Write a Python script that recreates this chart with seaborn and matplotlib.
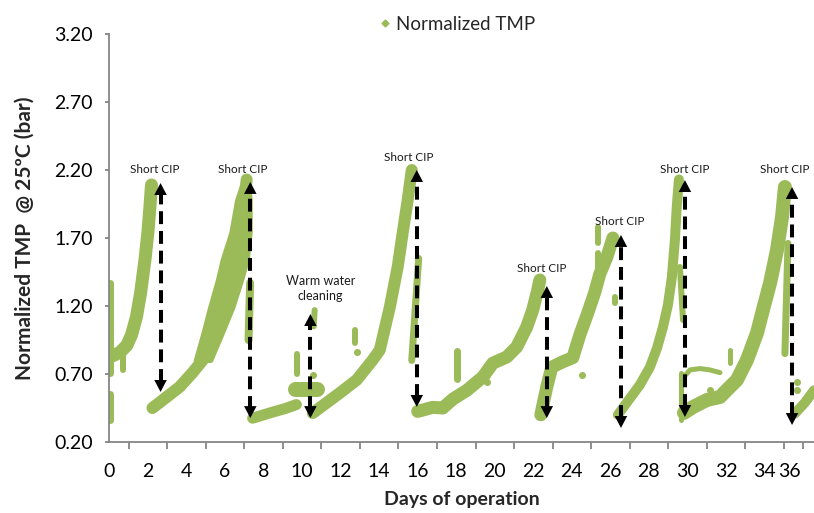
import matplotlib
matplotlib.use("Agg")
import matplotlib.pyplot as plt
import seaborn as sns
from matplotlib.lines import Line2D

# ---------------- data ----------------
# filtration cycles: centre line of the TMP band (day, bar)
seg0_day = [0.10, 0.55, 0.90, 1.15, 1.40, 1.62, 1.85, 2.00, 2.10, 2.18]
seg0_tmp = [0.83, 0.86, 0.91, 0.99, 1.12, 1.30, 1.55, 1.75, 1.93, 2.09]

seg1_day = [2.23, 2.96, 3.64, 4.31, 4.83, 5.19, 5.56, 5.85, 6.20, 6.50, 6.80, 6.95, 7.05, 7.12]
seg1_tmp = [0.45, 0.53, 0.605, 0.71, 0.80, 0.90, 1.05, 1.20, 1.39, 1.54, 1.74, 1.91, 2.03, 2.13]

seg2_day = [7.43, 8.47, 9.10, 9.70]
seg2_tmp = [0.375, 0.42, 0.445, 0.475]

seg3_day = [10.55, 11.95, 12.83, 13.66, 14.03, 14.55, 14.96, 15.22, 15.48, 15.69]
seg3_tmp = [0.413, 0.56, 0.656, 0.803, 0.876, 1.19, 1.487, 1.737, 1.98, 2.20]

seg4_day = [16.00, 16.78, 17.30, 17.82, 18.55, 19.38, 19.90, 20.62, 21.14, 21.66, 21.97, 22.23, 22.34]
seg4_tmp = [0.425, 0.455, 0.45, 0.515, 0.58, 0.678, 0.78, 0.825, 0.899, 1.046, 1.171, 1.318, 1.391]

seg5_day = [22.39, 22.70, 22.96, 23.53, 24.05, 24.42, 24.78, 25.19, 25.45, 25.82, 26.13]
seg5_tmp = [0.40, 0.605, 0.75, 0.79, 0.82, 0.99, 1.13, 1.30, 1.435, 1.56, 1.70]

seg6_day = [26.39, 27.01, 27.53, 28.05, 28.42, 28.73, 28.99, 29.19, 29.35, 29.45, 29.56]
seg6_tmp = [0.40, 0.52, 0.62, 0.75, 0.89, 1.045, 1.21, 1.41, 1.685, 1.94, 2.13]

seg7_day = [29.82, 30.29, 31.01, 31.69, 32.05, 32.57, 33.09, 33.61, 33.92, 34.29, 34.65, 34.91, 35.06]
seg7_tmp = [0.414, 0.457, 0.509, 0.531, 0.583, 0.656, 0.803, 1.001, 1.171, 1.369, 1.612, 1.854, 2.075]

seg8_day = [35.58, 36.10, 36.57]
seg8_tmp = [0.41, 0.49, 0.58]

# wide scatter on the rising part of cycle 1 (TMP level, left and right day edge)
wedge1_tmp = [0.80, 1.00, 1.19, 1.39, 1.54, 1.74, 1.98, 2.13]
wedge1_left = [4.45, 4.85, 5.20, 5.60, 5.85, 6.30, 6.60, 6.96]
wedge1_right = [5.25, 5.85, 6.40, 6.85, 7.15, 7.30, 7.30, 7.20]

# short strips of scattered readings (start/end day, start/end TMP)
strip_day0 = [0.05, 0.05, 0.68, 7.22, 9.73, 9.65, 10.60, 12.75, 15.69, 18.05, 25.38, 25.38, 26.23, 29.61, 29.66, 32.21, 35.06]
strip_day1 = [0.05, 0.05, 0.68, 7.30, 9.73, 10.75, 10.65, 12.75, 16.05, 18.05, 25.38, 25.38, 26.23, 29.77, 29.66, 32.21, 35.22]
strip_tmp0 = [0.71, 0.36, 0.73, 0.95, 0.70, 0.59, 1.05, 0.93, 0.80, 0.66, 1.665, 1.44, 1.22, 1.487, 0.362, 0.781, 0.85]
strip_tmp1 = [1.37, 0.55, 0.88, 1.37, 0.85, 0.59, 1.17, 1.02, 1.55, 0.87, 1.784, 1.59, 1.266, 1.097, 0.707, 0.877, 1.66]

# upper branch of readings after the day-30 CIP
branch_day = [29.77, 30.13, 30.65, 31.17, 31.69]
branch_tmp = [0.67, 0.73, 0.74, 0.73, 0.71]

# isolated readings
dot_day = [10.55, 12.83, 19.58, 24.52, 31.17, 32.10, 35.69, 35.69]
dot_tmp = [0.69, 0.86, 0.64, 0.69, 0.583, 0.60, 0.641, 0.583]

# cleaning events: day, lower / upper end of arrow
event_day = [2.65, 7.31, 10.43, 15.95, 22.70, 26.55, 29.87, 35.43]
event_low = [0.568, 0.376, 0.376, 0.458, 0.376, 0.303, 0.384, 0.325]
event_high = [2.104, 2.112, 1.141, 2.20, 1.347, 1.722, 2.126, 2.075]

label_text = ["Short CIP", "Short CIP", "Warm water\ncleaning", "Short CIP",
              "Short CIP", "Short CIP", "Short CIP", "Short CIP"]
label_day = [2.34, 6.94, 10.96, 15.53, 22.42, 26.49, 29.87, 35.06]
label_tmp = [2.207, 2.207, 1.33, 2.29, 1.479, 1.825, 2.207, 2.207]

y_ticks = [0.20, 0.70, 1.20, 1.70, 2.20, 2.70, 3.20]
x_tick_labels = ["0", "2", "4", "6", "8", "10", "12", "14", "16", "18",
                 "20", "22", "24", "26", "28", "30", "32", "34", "36"]

# ---------------- style ----------------
sns.set_theme(style="white")
plt.rcParams["font.family"] = ["Lato", "DejaVu Sans"]

GREEN = "#9BBB59"
GREY = "#868686"
PT = 0.72  # points per pixel at dpi 100

fig = plt.figure(figsize=(8.14, 5.13), dpi=100)
ax = fig.add_axes([0.1345, 0.1384, 0.8655, 0.7953])

segments = [
    (seg0_day, seg0_tmp, 13), (seg1_day, seg1_tmp, 12), (seg2_day, seg2_tmp, 11),
    (seg3_day, seg3_tmp, 12), (seg4_day, seg4_tmp, 13), (seg5_day, seg5_tmp, 13),
    (seg6_day, seg6_tmp, 10), (seg7_day, seg7_tmp, 14), (seg8_day, seg8_tmp, 10),
]
for d, t, w in segments:
    sns.lineplot(x=d, y=t, ax=ax, color=GREEN, linewidth=w * PT, estimator=None,
                 sort=False, solid_capstyle="round", solid_joinstyle="round", legend=False)

ax.fill_betweenx(wedge1_tmp, wedge1_left, wedge1_right, color=GREEN, linewidth=3,
                 edgecolor=GREEN)

strip_w = [7, 7, 6, 8, 6, 15, 6, 6, 7, 7, 6, 6, 6, 6, 5, 5, 7]
for i in range(len(strip_day0)):
    sns.lineplot(x=[strip_day0[i], strip_day1[i]], y=[strip_tmp0[i], strip_tmp1[i]], ax=ax,
                 color=GREEN, linewidth=strip_w[i] * PT, estimator=None, sort=False,
                 solid_capstyle="round", legend=False)

sns.lineplot(x=branch_day, y=branch_tmp, ax=ax, color=GREEN, linewidth=5 * PT,
             estimator=None, sort=False, solid_capstyle="round", legend=False)

sns.scatterplot(x=dot_day, y=dot_tmp, ax=ax, color=GREEN, s=(7 * PT) ** 2,
                linewidth=0, legend=False)

# cleaning arrows
head = 0.07
for x, lo, hi in zip(event_day, event_low, event_high):
    ax.plot([x, x], [lo + head, hi - head], color="black", lw=2.9,
            linestyle=(0, (3.2, 1.7)), dash_capstyle="butt", zorder=5)
    for tip, off in ((hi, -14), (lo, 14)):
        ax.annotate("", xy=(x, tip), xytext=(0, off), textcoords="offset points",
                    arrowprops=dict(arrowstyle="-|>,head_length=0.86,head_width=0.45",
                                    color="black", lw=0, shrinkA=0, shrinkB=0,
                                    mutation_scale=10), zorder=6)

for txt, x, y in zip(label_text, label_day, label_tmp):
    ax.text(x, y, txt, ha="center", va="center",
            fontsize=8.5 if txt.startswith("Short") else 9, color="#1a1a1a",
            linespacing=1.3)

# axes
ax.set_xlim(0, 36.57)
ax.set_ylim(0.2, 3.2)
ax.set_yticks(y_ticks)
ax.set_yticklabels([f"{v:.2f}" for v in y_ticks])
label_pos = [0, 2, 4, 6, 8, 10, 12, 14, 16, 18, 20, 22, 24, 26, 28, 30, 32, 34, 35.3]
ax.set_xticks(label_pos)
ax.set_xticklabels(x_tick_labels)
ax.set_xticks(range(0, 37), minor=True)
ax.tick_params(axis="x", which="major", bottom=True, length=0, pad=15, labelsize=14,
               labelcolor="black")
ax.tick_params(axis="x", which="minor", bottom=True, length=5, width=1.3, color=GREY,
               direction="out")
ax.tick_params(axis="y", which="major", left=True, length=3, width=1.3, color=GREY,
               direction="out", pad=9, labelsize=14, labelcolor="black")

for s in ("top", "right"):
    ax.spines[s].set_visible(False)
for s in ("left", "bottom"):
    ax.spines[s].set_color(GREY)
    ax.spines[s].set_linewidth(1.3)

ax.set_xlabel("Days of operation", fontsize=14, fontweight="bold", labelpad=8)
ax.set_ylabel("Normalized TMP  @ 25ºC (bar)", fontsize=15, fontweight="bold", labelpad=14)

handle = Line2D([], [], marker="D", linestyle="", color=GREEN, markersize=3.5)
fig.legend(handles=[handle], labels=["Normalized TMP"], loc="center",
           bbox_to_anchor=(456 / 814, 1 - 24 / 513), frameon=False, fontsize=13.5,
           handletextpad=0.2, handlelength=0.8)

fig.savefig("out.png", dpi=100)
